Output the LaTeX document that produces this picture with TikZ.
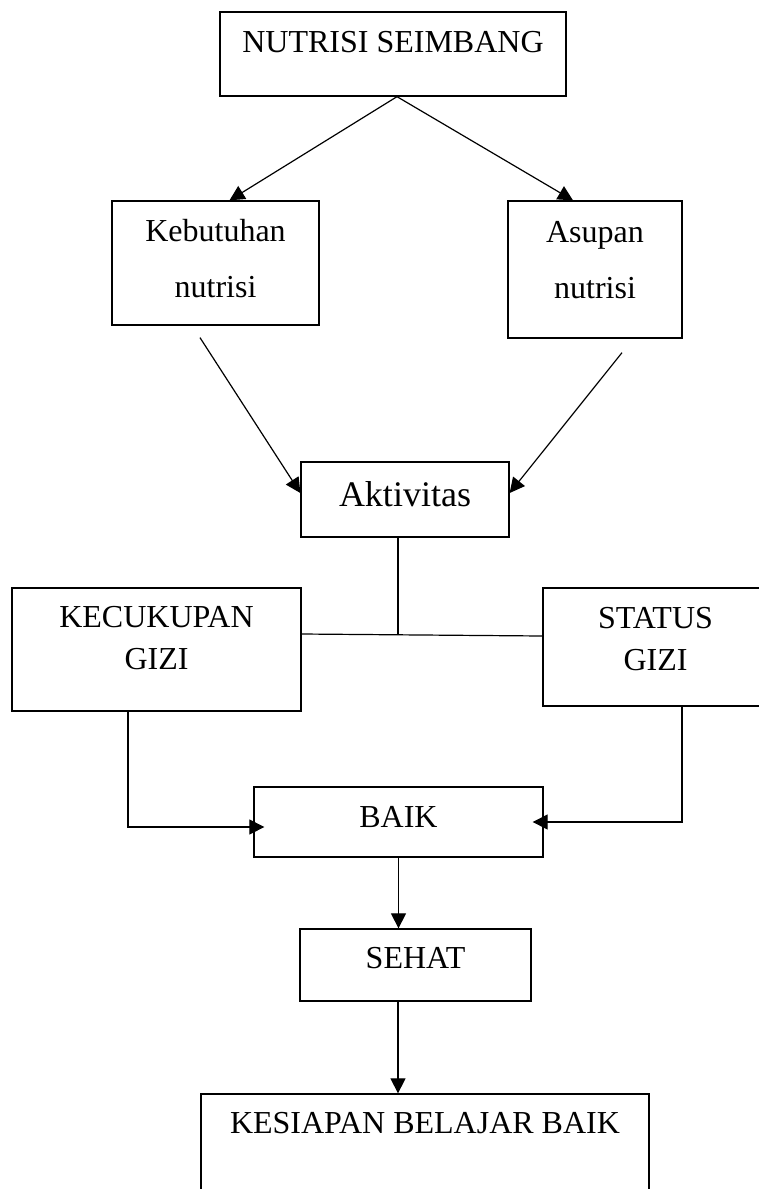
\documentclass[tikz,border=0pt]{standalone}
\usepackage{fontspec}
\setmainfont{Liberation Serif}
\usepackage{xcolor}
\usepackage{tikz}
\usetikzlibrary{arrows.meta}

\begin{document}
\begin{tikzpicture}[x=0.5pt,y=-0.5pt]
\useasboundingbox (0,0) rectangle (759,1189);
\clip (0,0) rectangle (759,1189);
\begin{scope}[every node/.style={rectangle,draw,line width=0.65pt,inner sep=0pt,
              font={\fontsize{16pt}{21pt}\selectfont}}]
    \node[minimum width=173pt,text height=20pt,text depth=22pt] (NS) at (393,54) {NUTRISI SEIMBANG};
    \node[minimum width=103.5pt,text height=20pt,text depth=42pt] (KN) at (215.5,263)
        {\begin{tabular}[t]{@{}c@{}}Kebutuhan\\[7pt]nutrisi\end{tabular}};
    \node[minimum width=87pt,text height=20.5pt,text depth=48pt] (AN) at (595,269.5)
        {\begin{tabular}[t]{@{}c@{}}Asupan\\[7pt]nutrisi\end{tabular}};
    \node[minimum width=104pt,text height=22pt,text depth=15.5pt,
          font={\fontsize{18pt}{22pt}\selectfont}] (AK) at (405,499.5) {Aktivitas};
    \node[minimum width=144.5pt,text height=19.5pt,text depth=42pt] (KG) at (156.5,649.5)
        {\begin{tabular}[t]{@{}c@{}}KECUKUPAN\\GIZI\end{tabular}};
    \node[minimum width=112.5pt,text height=20pt,text depth=39pt] (SG) at (655.5,647)
        {\begin{tabular}[t]{@{}c@{}}STATUS\\GIZI\end{tabular}};
    \node[minimum width=144.5pt,text height=20pt,text depth=15pt] (BK) at (398.5,822) {BAIK};
    \node[minimum width=115.5pt,text height=19.5pt,text depth=16.5pt] (SH) at (415.5,965) {SEHAT};
    \node[minimum width=224pt,text height=19.5pt,text depth=40pt] (KB) at (425,1153.5) {KESIAPAN BELAJAR BAIK};
\end{scope}
\coordinate (pusat) at (398,635);
\begin{scope}[>={Triangle[length=7.5pt,width=7.5pt]},line width=0.6pt,
              every edge/.style={draw=black,line width=0.6pt}]
    \path [->] ([xshift=2pt]NS.south) edge ([xshift=7pt]KN.north);
    \path [->] ([xshift=2pt]NS.south) edge ([xshift=-11pt]AN.north);
    \path [->] ([xshift=-7.75pt,yshift=-6pt]KN.south) edge ([yshift=3.25pt]AK.west);
    \path [->] ([xshift=13.5pt,yshift=-7pt]AN.south) edge ([yshift=3.25pt]AK.east);
    \path [-] ([xshift=-3.5pt]AK.south) edge (pusat);
    \path [-] ([yshift=7.75pt]KG.east) edge ([yshift=5.5pt]SG.west);
    \draw [->] ([xshift=-14.25pt]KG.south) |- ([xshift=5.5pt,yshift=-2.5pt]BK.west);
    \draw [->] ([xshift=13.25pt]SG.south) |- ([xshift=-5.5pt]BK.east);
    \path [->,line width=0.75pt] (BK.south) edge (BK.south |- SH.north);
    \path [->,line width=0.75pt] ([xshift=-8.75pt]SH.south) edge ([xshift=-8.75pt]SH.south |- KB.north);
%    \path [->] (SH) edge (KB);
\end{scope}
\end{tikzpicture}
\end{document}
